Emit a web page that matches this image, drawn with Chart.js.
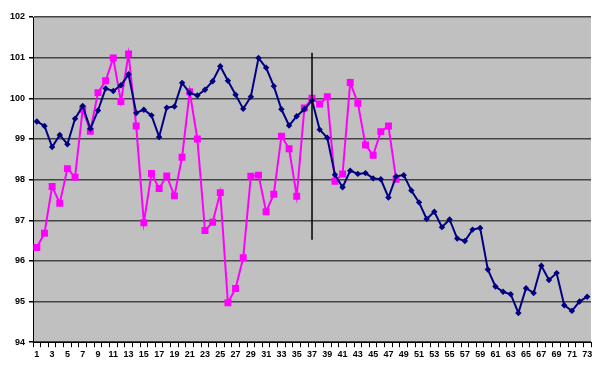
<!DOCTYPE html>
<html>
<head>
<meta charset="utf-8">
<script src="https://cdn.jsdelivr.net/npm/chart.js@4"></script>
<style>
  body { margin: 0; background: #fff; }
  #wrap { width: 600px; height: 374px; }
</style>
</head>
<body>
<div id="wrap"><canvas id="myChart" width="600" height="374"></canvas></div>
<script>
// categories 1..73
let dayLabels = [];
for (let i = 1; i <= 73; i++) {
  dayLabels.push(String(i));
}

// navy series (all 73 points)
let navyValues = [
  99.43, 99.32, 98.80, 99.10, 98.87, 99.50, 99.81, 99.25, 99.70, 100.24,
  100.18, 100.32, 100.59, 99.64, 99.72, 99.58, 99.05, 99.77, 99.80, 100.38,
  100.13, 100.07, 100.21, 100.42, 100.79, 100.43, 100.09, 99.74, 100.04, 100.99,
  100.75, 100.30, 99.73, 99.33, 99.56, 99.73, 99.95, 99.23, 99.03, 98.12,
  97.81, 98.22, 98.14, 98.16, 98.03, 98.01, 97.56, 98.08, 98.11, 97.73,
  97.44, 97.03, 97.21, 96.83, 97.02, 96.55, 96.49, 96.77, 96.81, 95.79,
  95.37, 95.24, 95.18, 94.72, 95.33, 95.21, 95.88, 95.53, 95.70, 94.91,
  94.77, 95.00, 95.12
];

// magenta series (first 48 points)
let pinkValues = [
  96.33, 96.68, 97.83, 97.42, 98.27, 98.06, 99.73, 99.19, 100.14, 100.43,
  100.99, 99.92, 101.09, 99.32, 96.94, 98.15, 97.78, 98.09, 97.60, 98.55,
  100.16, 99.00, 96.75, 96.95, 97.68, 94.97, 95.32, 96.08, 98.08, 98.11,
  97.21, 97.64, 99.07, 98.76, 97.59, 99.76, 100.00, 99.86, 100.04, 97.96,
  98.14, 100.39, 99.88, 98.85, 98.60, 99.18, 99.32, 98.01
];

// vertical marker line at category 37
let markerDay = '37';
let markerTop = 101.12;
let markerBottom = 96.52;

let yMin = 94;
let yMax = 102;

const plotBackground = {
  id: 'plotBackground',
  beforeDraw(chart) {
    let ctx = chart.ctx;
    let a = chart.chartArea;
    ctx.save();
    ctx.fillStyle = '#c0c0c0';
    ctx.fillRect(a.left, a.top, a.right - a.left, a.bottom - a.top);
    ctx.restore();
  }
};

let canvasChart = document.getElementById('myChart');
let chart = new Chart(canvasChart, {
  type: 'line',
  data: {
    labels: dayLabels,
    datasets: [
      {
        label: 'marker',
        data: [{ x: markerDay, y: markerTop }, { x: markerDay, y: markerBottom }],
        borderColor: '#000000',
        borderWidth: 1.5,
        pointRadius: 0,
        order: 0
      },
      {
        label: 'pink',
        data: pinkValues,
        borderColor: '#ff00ff',
        backgroundColor: '#ff00ff',
        borderWidth: 2,
        pointStyle: 'rect',
        pointRadius: 3.5,
        tension: 0,
        order: 2
      },
      {
        label: 'navy',
        data: navyValues,
        borderColor: '#000080',
        backgroundColor: '#000080',
        borderWidth: 2,
        pointStyle: 'rectRot',
        pointRadius: 1.8,
        tension: 0,
        order: 1
      }
    ]
  },
  options: {
    responsive: false,
    animation: false,
    layout: { padding: { left: 6, right: 9, top: 17, bottom: 12 } },
    plugins: {
      legend: { display: false },
      tooltip: { enabled: false }
    },
    scales: {
      x: {
        offset: true,
        grid: {
          offset: true,
          drawOnChartArea: false,
          drawTicks: true,
          tickLength: 5,
          color: '#000'
        },
        border: { color: '#000', width: 1 },
        ticks: {
          autoSkip: false,
          maxRotation: 0,
          minRotation: 0,
          color: '#000',
          padding: 2,
          font: { family: 'Arial, "Liberation Sans"', size: 9, weight: 'bold' },
          callback: function (value, index) {
            return index % 2 === 0 ? dayLabels[index] : '';
          }
        }
      },
      y: {
        min: yMin,
        max: yMax,
        grid: {
          color: '#444',
          lineWidth: 1.5,
          drawTicks: true,
          tickLength: 4,
          tickColor: '#000'
        },
        border: { color: '#000', width: 1 },
        ticks: {
          stepSize: 1,
          color: '#000',
          padding: 4,
          font: { family: 'Arial, "Liberation Sans"', size: 9, weight: 'bold' }
        }
      }
    }
  },
  plugins: [plotBackground]
});
</script>
</body>
</html>
